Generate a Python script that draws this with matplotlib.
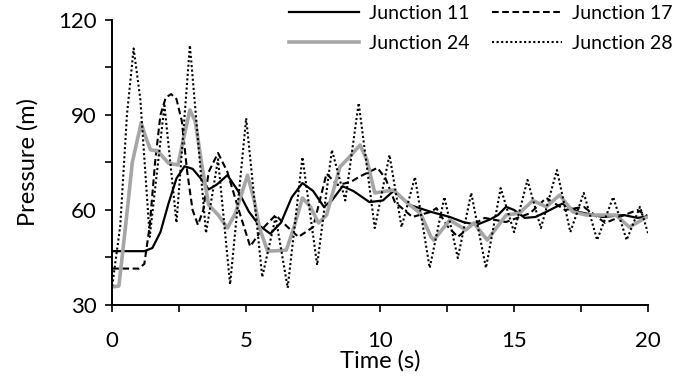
import matplotlib.pyplot as plt
from matplotlib.ticker import MultipleLocator

# -------------------------------
# Data
# -------------------------------
t_j11 = [0, 1.2, 1.5, 1.8, 2.1, 2.4, 2.7, 3.0, 3.3, 3.6, 3.9, 4.3, 4.7, 5.1, 5.5,
         5.9, 6.3, 6.7, 7.1, 7.5, 7.9, 8.2, 8.6, 9.0, 9.6, 10.1, 10.5, 11.1, 11.5,
         11.9, 12.6, 13.1, 13.6, 14.1, 14.4, 14.7, 15.0, 15.4, 15.8, 16.2, 16.8,
         17.4, 18.3, 19.1, 19.6, 20]
p_j11 = [47, 47, 48, 53, 62, 70, 73.8, 73, 70, 66.5, 68, 71, 66, 59.5, 55,
         52.5, 56, 64, 68.5, 66, 61, 63, 67.5, 66, 62.5, 63, 66, 61.6, 60.5,
         59.4, 57.8, 56.2, 55.3, 57, 58.4, 61, 60, 57.5, 57.8, 59.4, 62,
         59.4, 57.8, 58.4, 57.5, 58]

t_j17 = [0, 1.0, 1.2, 1.4, 1.6, 1.8, 2.0, 2.2, 2.4, 2.6, 2.8, 3.0, 3.2, 3.4,
         3.6, 3.95, 4.3, 4.7, 5.15, 5.6, 6.1, 6.5, 6.95, 7.5, 8.0, 8.4, 8.9,
         9.2, 9.9, 10.2, 10.55, 11.2, 11.9, 12.1, 12.5, 12.9, 13.4, 13.9, 14.7,
         15.6, 16.2, 16.9, 17.6, 18.4, 19.0, 19.6, 20]
p_j17 = [41.5, 41.5, 43, 55, 75, 90, 95.5, 96.6, 95, 88, 72, 60, 55.3, 60,
         72, 78, 72, 60.6, 48.5, 54, 58.4, 55, 51.5, 54.6, 71.5, 67.9, 68.8,
         70.4, 73.3, 70, 62.5, 57.8, 59.4, 60.6, 55, 51.5, 55, 57.5, 56.2,
         59, 63.8, 60, 61, 55.9, 58, 60, 58]

t_j24 = [0, 0.25, 0.5, 0.75, 1.08, 1.25, 1.43, 1.7, 2.1, 2.45, 2.65, 2.9, 3.1,
         3.35, 3.6, 3.96, 4.3, 4.6, 5.05, 5.3, 5.5, 5.8, 6.5, 6.8, 7.1, 7.4,
         7.7, 8.0, 8.5, 8.85, 9.25, 9.5, 9.8, 10.5, 11.1, 11.5, 11.9, 12.0,
         12.6, 13.2, 13.5, 14.0, 14.7, 15.2, 15.7, 16.2, 16.7, 17.2, 17.7,
         18.2, 18.8, 19.3, 19.9, 20]
p_j24 = [35.7, 36, 55, 75, 87.5, 83, 79, 78.6, 74.8, 74.2, 82, 91.6, 88,
         74, 61.6, 58.4, 54.3, 59, 71, 63, 54.3, 47, 47.3, 55, 63.8, 61,
         55.9, 58.4, 73.6, 76.7, 80.5, 76, 65.4, 66.3, 61.6, 59, 51.5, 50.5,
         56.8, 53.7, 55.9, 50.5, 58.4, 59, 63, 61, 64.7, 59.4, 58.4,
         58.4, 58.4, 54.6, 57.5, 57.8]

t_j28 = [0, 0.3, 0.55, 0.8, 1.05, 1.4, 1.95, 2.4, 2.9, 3.5, 3.95, 4.4, 5.0,
         5.6, 6.1, 6.55, 7.1, 7.65, 8.2, 8.7, 9.2, 9.8, 10.35, 10.8, 11.3,
         11.85, 12.4, 12.9, 13.4, 13.95, 14.5, 15.0, 15.5, 16.0, 16.6, 17.1,
         17.6, 18.1, 18.7, 19.2, 19.7, 20]
p_j28 = [36, 55, 90, 111, 95, 51.5, 93, 56, 112, 52.7, 76, 36.5, 89,
         38.8, 57.8, 35.4, 76.7, 42.6, 79, 63, 93.8, 54.3, 77.4, 54.6, 70.4,
         41.7, 64.1, 44.8, 65.4, 41.7, 66.9, 53, 69.5, 54.3, 72.6, 53,
         65.4, 50.5, 64.1, 50.5, 61, 52.7]

# -------------------------------
# Style
# -------------------------------
plt.rcParams['font.family'] = ['Lato', 'DejaVu Sans']

fig = plt.figure(figsize=(6.8, 3.77), dpi=100)
ax = fig.add_axes([0.165, 0.191, 0.788, 0.756])

gray = '#a6a6a6'
l11, = ax.plot(t_j11, p_j11, color='black', lw=1.6, label='Junction 11')
l17, = ax.plot(t_j17, p_j17, color='black', lw=1.5, linestyle=(0, (3.2, 1.7)),
               label='Junction 17')
l24, = ax.plot(t_j24, p_j24, color=gray, lw=2.6, label='Junction 24')
l28, = ax.plot(t_j28, p_j28, color='black', lw=1.5, linestyle=(0, (1, 1.2)),
               label='Junction 28')

ax.set_xlim(0, 20)
ax.set_ylim(30, 120)
ax.xaxis.set_major_locator(MultipleLocator(5))
ax.xaxis.set_minor_locator(MultipleLocator(2.5))
ax.yaxis.set_major_locator(MultipleLocator(30))
ax.yaxis.set_minor_locator(MultipleLocator(15))
ax.tick_params(which='both', direction='out', length=5, width=1.2,
               labelsize=16)
ax.tick_params(axis='x', pad=14)
ax.tick_params(axis='y', pad=6)

for side in ['top', 'right']:
    ax.spines[side].set_visible(False)
for side in ['left', 'bottom']:
    ax.spines[side].set_linewidth(1.4)

ax.set_xlabel('Time (s)', fontsize=17, labelpad=-1)
ax.set_ylabel('Pressure (m)', fontsize=17, labelpad=14)

# legend rows: 11 / 17 on top, 24 / 28 below (ncol fills column-wise)
ax.legend([l11, l24, l17, l28],
          ['Junction 11', 'Junction 24', 'Junction 17', 'Junction 28'],
          ncol=2, loc='upper right', bbox_to_anchor=(0.995, 0.997),
          bbox_transform=fig.transFigure, borderaxespad=0, borderpad=0.2,
          frameon=False, fontsize=14, handlelength=3.6, columnspacing=1.2,
          handletextpad=0.5, labelspacing=0.65)

plt.savefig('out.png', dpi=100)
